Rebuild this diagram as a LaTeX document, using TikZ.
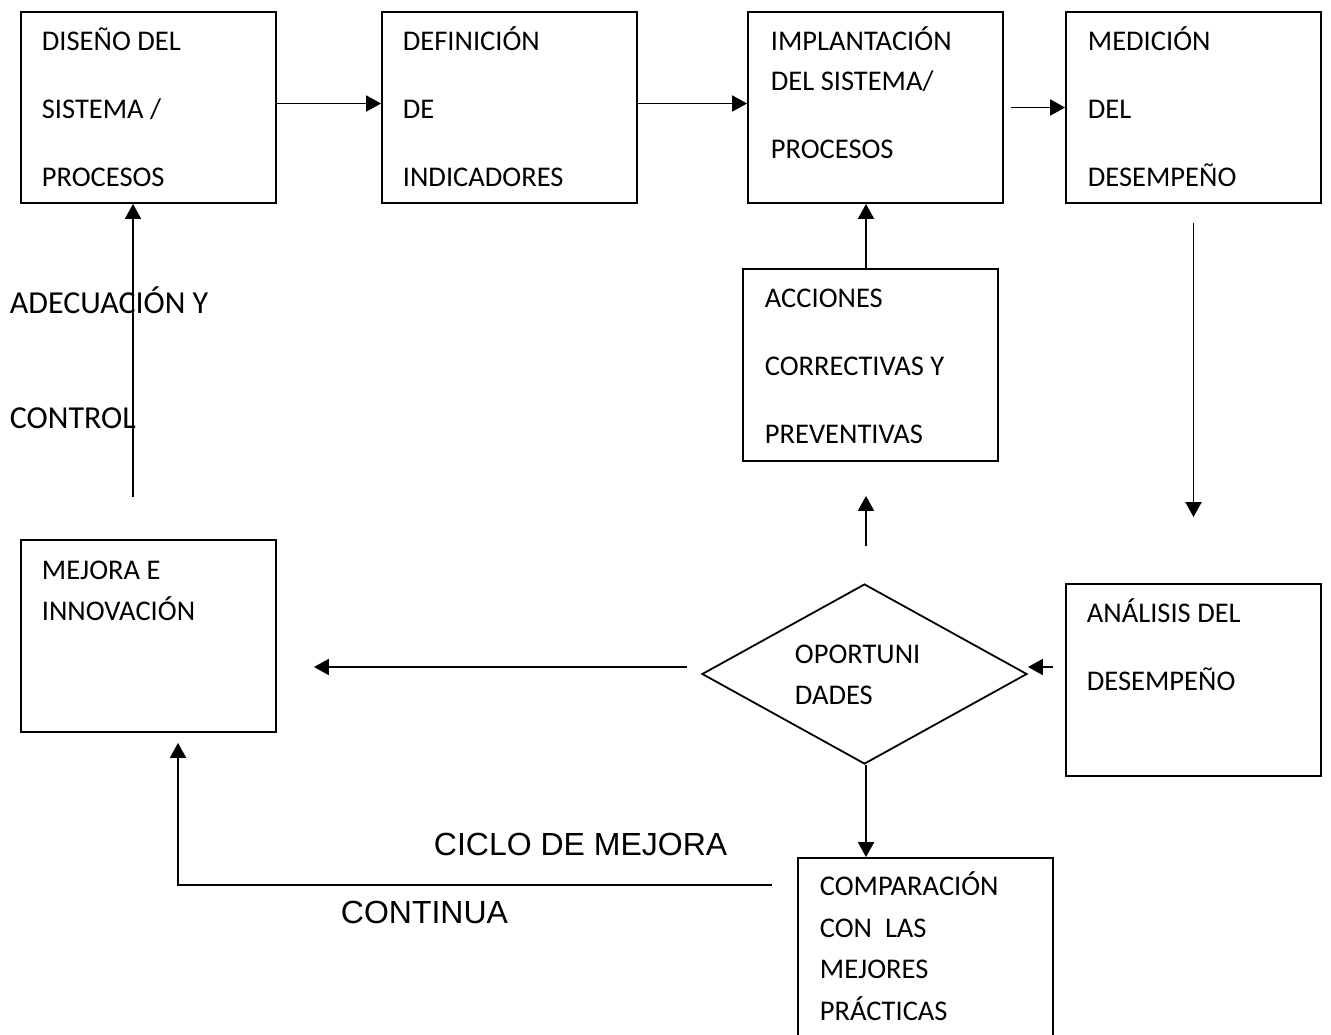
\documentclass[tikz,border=0pt]{standalone}
\usepackage{fontspec}
\setmainfont{Carlito}
\newfontfamily\arialfont{Liberation Sans}
\usetikzlibrary{positioning, arrows.meta, shapes}

\begin{document}
\begin{tikzpicture}[
	every box/.style={rectangle, draw, line width=1.8pt, minimum width=255pt, minimum height=191pt, inner sep=0pt},
	every diamond/.style={diamond, draw, line width=1.8pt, minimum width=325pt, minimum height=180pt, inner sep=0pt},
	box text/.style={anchor=base west, inner sep=0pt, font=\fontsize{28.5}{32}\selectfont},
	side text/.style={anchor=base west, inner sep=0pt, font=\fontsize{32}{38}\selectfont},
	ciclo text/.style={anchor=base west, inner sep=0pt, font=\arialfont\fontsize{32}{38}\selectfont},
	x=1pt,
	y=-1pt,
	line width=1.8pt,
	>={Triangle[length=15pt, width=16pt]}
]

\clip (0,0) rectangle (1331,1034);

% boxes
\node [every box/.try] (diseno) at (148.5, 107.5) {};
\node [every box/.try] (definicion) at (509.5, 107.5) {};
\node [every box/.try] (implantacion) at (875.5, 107.5) {};
\node [every box/.try] (medicion) at (1193.5, 107.5) {};
\node [every box/.try, minimum height=192pt] (acciones) at (870.5, 365) {};
\node [every box/.try, minimum height=192pt] (mejora) at (148.5, 636) {};
\node [every box/.try, minimum height=192pt] (analisis) at (1193.5, 680) {};
\node [every box/.try, minimum height=192pt] (comparacion) at (925.5, 954) {};
\node [every diamond/.try] (oportunidades) at (864.5, 674) {};

% texts
\foreach \l [count=\i] in {DISEÑO DEL, SISTEMA /, PROCESOS}
	\node [box text] (diseno-text-\i) at (41, -18+68*\i) {\l};

\foreach \l [count=\i] in {DEFINICIÓN, DE, INDICADORES}
	\node [box text] (definicion-text-\i) at (402, -18+68*\i) {\l};

\node [box text] (implantacion-text-1) at (770, 50) {IMPLANTACIÓN};
\node [box text] (implantacion-text-2) at (770, 90) {DEL SISTEMA/};
\node [box text] (implantacion-text-3) at (770, 158) {PROCESOS};

\foreach \l [count=\i] in {MEDICIÓN, DEL, DESEMPEÑO}
	\node [box text] (medicion-text-\i) at (1087, -18+68*\i) {\l};

\foreach \l [count=\i] in {ACCIONES, CORRECTIVAS Y, PREVENTIVAS}
	\node [box text] (acciones-text-\i) at (764, 239+68*\i) {\l};

\node [box text] (mejora-text-1) at (41, 579) {MEJORA E};
\node [box text] (mejora-text-2) at (41, 620) {INNOVACIÓN};

\node [box text] (analisis-text-1) at (1086, 622) {ANÁLISIS DEL};
\node [box text] (analisis-text-2) at (1086, 690) {DESEMPEÑO};

\node [box text] (oportunidades-text-1) at (794, 663) {OPORTUNI};
\node [box text] (oportunidades-text-2) at (794, 704) {DADES};

\foreach \l [count=\x] in {COMPARACIÓN, CON\ \ LAS, MEJORES, PRÁCTICAS}
	\node [box text] (comparacion-text-\x) at (819, 854+41.5*\x) {\l};

\node [side text] (adecuacion) at (9, 313) {ADECUACIÓN Y};
\node [side text] (control) at (9, 428) {CONTROL};
\node [ciclo text] (ciclo) at (433, 855) {CICLO DE MEJORA};
\node [ciclo text] (continua) at (340, 923) {CONTINUA};

% connectors
\coordinate (ciclo-start) at (772, 885);

\draw [->] ([yshift=4pt]diseno.east) -- ([yshift=4pt]definicion.west);
\draw [->] ([yshift=4pt]definicion.east) -- ([yshift=4pt]implantacion.west);
\draw [->] ([xshift=7pt]implantacion.east) -- (medicion.west);
\draw [->] ([xshift=-4.5pt]acciones.north) -- ([xshift=-4.5pt]acciones.north |- implantacion.south);
\draw [->] ([yshift=-19pt]medicion.south) -- ([yshift=66pt]analisis.north);
\draw [->] ([xshift=-12pt, yshift=13pt]analisis.west) -- ([yshift=7pt]oportunidades.east);
\draw [->] ([xshift=-14pt, yshift=7pt]oportunidades.west) -- ([xshift=37pt, yshift=-31pt]mejora.east);
\draw [->] ([xshift=1.5pt, yshift=37pt]oportunidades.north) -- ([xshift=1.5pt, yshift=-34pt]oportunidades.north |- acciones.south);
\draw [->] ([xshift=1.5pt]oportunidades.south) -- ([xshift=1.5pt]oportunidades.south |- comparacion.north);
\draw [->] (ciclo-start) -| ([xshift=29.5pt, yshift=-10pt]mejora.south);
\draw [->] ([yshift=42pt, xshift=-15.5pt]mejora.north) -- ([xshift=-15.5pt]diseno.south);

\end{tikzpicture}
\end{document}
